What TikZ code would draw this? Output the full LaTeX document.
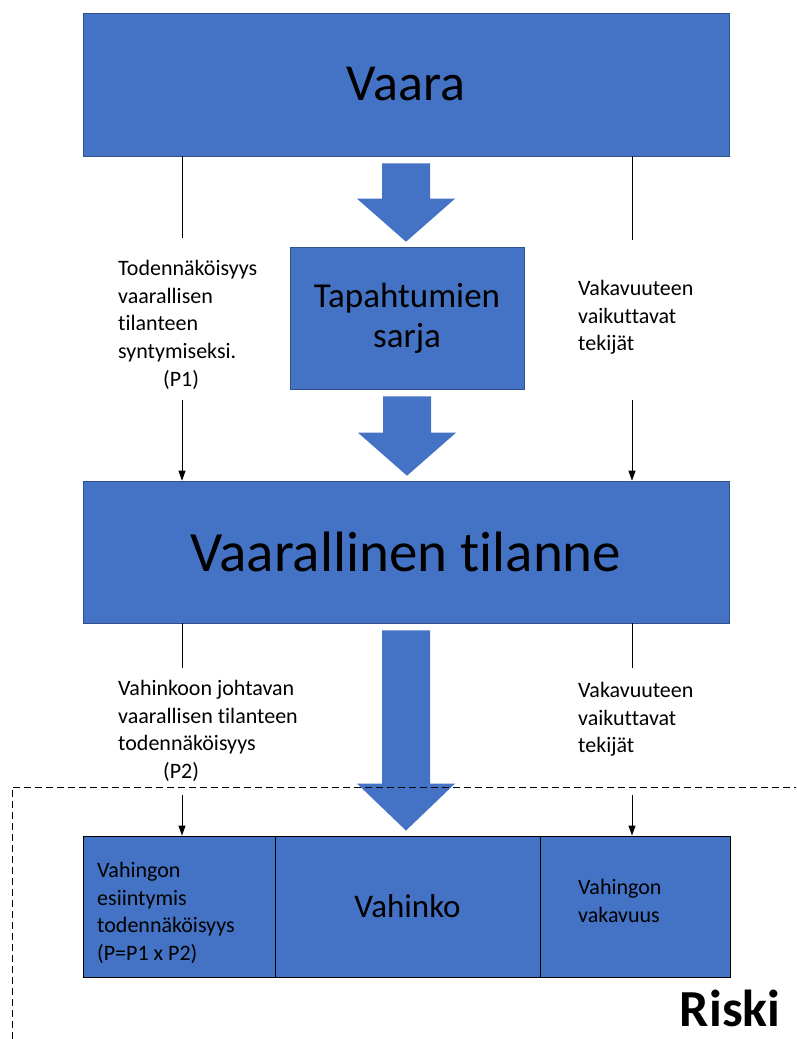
\documentclass[tikz,border=0pt]{standalone}
\usepackage{fontspec}
\setmainfont{Carlito}[Ligatures={NoCommon,NoContextual}, RawFeature={-liga;-clig}]
\usetikzlibrary{arrows.meta, calc}

\definecolor{boxblue}{HTML}{4472C4}
\definecolor{edgeblue}{HTML}{2F528F}

% block arrow from the bottom of one node to the top of the next
\newcommand{\blockarrow}[3]{%
    \fill[boxblue] let \p1=(#1.south), \p2=(#2.north) in
        (\x1-24,\y1-7) -- (\x1+24,\y1-7) -- (\x1+24,\y2+5+#3) -- (\x1+49,\y2+5+#3)
        -- (\x1,\y2+5) -- (\x1-49,\y2+5+#3) -- (\x1-24,\y2+5+#3) -- cycle;%
}

\begin{document}
\begin{tikzpicture}[
    x=1pt, y=-1pt,
    bigbox/.style={
        rectangle,
        fill=boxblue,
        draw=edgeblue,
        line width=0.6pt,
        minimum width=646pt,
        minimum height=143pt,
        inner sep=0pt
    },
    cellbox/.style={
        rectangle,
        fill=boxblue,
        draw=black,
        line width=0.9pt,
        minimum height=141pt,
        inner sep=0pt
    },
    note/.style={
        align=left,
        inner sep=0pt,
        anchor=north west,
        font=\fontsize{22}{27.7}\selectfont
    },
    thin/.style={
        line width=0.9pt
    },
    thinarrow/.style={
        line width=0.9pt,
        -{Triangle[length=10pt,width=7pt]}
    }
]

\useasboundingbox (0,0) rectangle (796,1039);
\clip (0,0) rectangle (796,1039);

% ========== MAIN BOXES ==========

\node[bigbox, font=\fontsize{52}{60}\selectfont] (vaara) at (406,84.5) {Vaara};

\node[bigbox, minimum width=234pt, minimum height=142pt, align=center,
      font=\fontsize{35}{40}\selectfont] (sarja) at (407,318) {Tapahtumien\\sarja};

\node[bigbox, minimum height=142pt, font=\fontsize{57}{64}\selectfont] (tilanne) at (406,552) {Vaarallinen tilanne};

% ========== RISK BOXES ==========

\node[cellbox, minimum width=192pt] (todnak) at (179,906.5) {};
\node[cellbox, minimum width=265pt, font=\fontsize{33}{40}\selectfont] (vahinko) at (407.5,906.5) {Vahinko};
\node[cellbox, minimum width=190pt] (vakavuus) at (635,906.5) {};

\node[note] (todnakteksti) at (97,862) {Vahingon\\esiintymis\\todennäköisyys\\(P=P1 x P2)};
\node[note] (vakavuusteksti) at (578,879) {Vahingon\\vakavuus};

% ========== BLOCK ARROWS ==========

\blockarrow{vaara}{sarja}{43}
\blockarrow{sarja}{tilanne}{43}
\blockarrow{tilanne}{vahinko}{47}

% ========== SIDE TEXTS ==========

\node[note] (p1) at (118,260) {Todennäköisyys\\vaarallisen\\tilanteen\\syntymiseksi.\\\hspace*{45pt}(P1)};
\node[note] (tekijat1) at (578,280) {Vakavuuteen\\vaikuttavat\\tekijät};
\node[note] (p2) at (118,680) {Vahinkoon johtavan\\vaarallisen tilanteen\\todennäköisyys\\\hspace*{45pt}(P2)};
\node[note] (tekijat2) at (578,682) {Vakavuuteen\\vaikuttavat\\tekijät};

% ========== THIN LINES ==========

\coordinate (lx) at (182,0);
\coordinate (rx) at (632,0);
\coordinate (l1end) at (182,238);
\coordinate (r1end) at (632,240);
\coordinate (l1start) at (182,400);
\coordinate (r1start) at (632,400);
\coordinate (l2end) at (182,668);
\coordinate (r2end) at (632,668);
\coordinate (l2start) at (182,795);
\coordinate (r2start) at (632,795);

\draw[thin] (vaara.south -| lx) -- (l1end);
\draw[thin] (vaara.south -| rx) -- (r1end);
\draw[thinarrow] (l1start) -- (tilanne.north -| lx);
\draw[thinarrow] (r1start) -- (tilanne.north -| rx);

\draw[thin] (tilanne.south -| lx) -- (l2end);
\draw[thin] (tilanne.south -| rx) -- (r2end);
\draw[thinarrow] (l2start) -- (todnak.north -| lx);
\draw[thinarrow] (r2start) -- (vakavuus.north -| rx);

% ========== RISK AREA ==========

\draw[line width=0.9pt, dash pattern=on 7pt off 4pt] (12,1050) |- (800,787);
\node[anchor=east, font=\bfseries\fontsize{52}{60}\selectfont] (riski) at (784,1008) {Riski};

\end{tikzpicture}
\end{document}
